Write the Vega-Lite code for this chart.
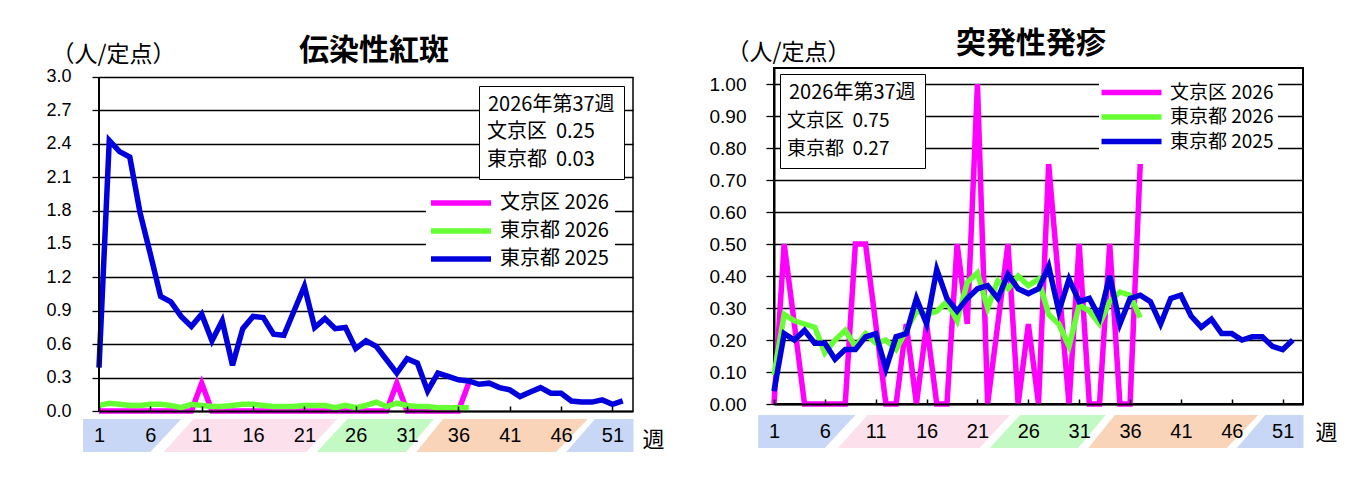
{
"$schema": "https://vega.github.io/schema/vega-lite/v6.json",
"background": "white",
"padding": {"left": 45, "top": 28, "right": 5, "bottom": 5},
"spacing": 43,
"config": {
  "view": {"stroke": "black", "strokeWidth": 2},
  "axis": {"labelFont": "Liberation Sans", "labelColor": "black", "titleFont": "Noto Sans CJK JP", "titleColor": "black", "titleFontWeight": "normal"},
  "legend": {"labelFont": "Noto Sans CJK JP", "titleFont": "Noto Sans CJK JP", "labelColor": "black", "titleColor": "black", "titleFontWeight": "normal", "labelLimit": 300},
  "title": {"font": "Noto Sans CJK JP", "color": "black"}
},
"datasets": {
  "season": [
    {"season": "冬1", "level": 0, "from": -0.55, "to": 6.0},
    {"season": "冬1", "level": 1, "from": -0.55, "to": 9.0},
    {"season": "春", "level": 0, "from": 7.3, "to": 21.2},
    {"season": "春", "level": 1, "from": 10.2, "to": 24.2},
    {"season": "夏", "level": 0, "from": 22.2, "to": 30.9},
    {"season": "夏", "level": 1, "from": 25.2, "to": 33.6},
    {"season": "秋", "level": 0, "from": 31.9, "to": 45.5},
    {"season": "秋", "level": 1, "from": 34.5, "to": 48.6},
    {"season": "冬2", "level": 0, "from": 46.5, "to": 53.05},
    {"season": "冬2", "level": 1, "from": 49.3, "to": 53.05}
  ],
  "info_e": [{"label": "文京区\u00a0\u00a00.25"}, {"label": "東京都\u00a0\u00a00.03"}],
  "info_x": [{"label": "文京区\u00a0\u00a00.75"}, {"label": "東京都\u00a0\u00a00.27"}],
  "erythema": [
    {"week":1,"series":"文京区 2026","value":0},{"week":2,"series":"文京区 2026","value":0},{"week":3,"series":"文京区 2026","value":0},{"week":4,"series":"文京区 2026","value":0},{"week":5,"series":"文京区 2026","value":0},{"week":6,"series":"文京区 2026","value":0},{"week":7,"series":"文京区 2026","value":0},{"week":8,"series":"文京区 2026","value":0},{"week":9,"series":"文京区 2026","value":0},{"week":10,"series":"文京区 2026","value":0},{"week":11,"series":"文京区 2026","value":0.25},{"week":12,"series":"文京区 2026","value":0},{"week":13,"series":"文京区 2026","value":0},{"week":14,"series":"文京区 2026","value":0},{"week":15,"series":"文京区 2026","value":0},{"week":16,"series":"文京区 2026","value":0},{"week":17,"series":"文京区 2026","value":0},{"week":18,"series":"文京区 2026","value":0},{"week":19,"series":"文京区 2026","value":0},{"week":20,"series":"文京区 2026","value":0},{"week":21,"series":"文京区 2026","value":0},{"week":22,"series":"文京区 2026","value":0},{"week":23,"series":"文京区 2026","value":0},{"week":24,"series":"文京区 2026","value":0},{"week":25,"series":"文京区 2026","value":0},{"week":26,"series":"文京区 2026","value":0},{"week":27,"series":"文京区 2026","value":0},{"week":28,"series":"文京区 2026","value":0},{"week":29,"series":"文京区 2026","value":0},{"week":30,"series":"文京区 2026","value":0.25},{"week":31,"series":"文京区 2026","value":0},{"week":32,"series":"文京区 2026","value":0},{"week":33,"series":"文京区 2026","value":0},{"week":34,"series":"文京区 2026","value":0},{"week":35,"series":"文京区 2026","value":0},{"week":36,"series":"文京区 2026","value":0},{"week":37,"series":"文京区 2026","value":0.25},
    {"week":1,"series":"東京都 2026","value":0.05},{"week":2,"series":"東京都 2026","value":0.07},{"week":3,"series":"東京都 2026","value":0.06},{"week":4,"series":"東京都 2026","value":0.05},{"week":5,"series":"東京都 2026","value":0.05},{"week":6,"series":"東京都 2026","value":0.06},{"week":7,"series":"東京都 2026","value":0.06},{"week":8,"series":"東京都 2026","value":0.05},{"week":9,"series":"東京都 2026","value":0.03},{"week":10,"series":"東京都 2026","value":0.06},{"week":11,"series":"東京都 2026","value":0.05},{"week":12,"series":"東京都 2026","value":0.04},{"week":13,"series":"東京都 2026","value":0.04},{"week":14,"series":"東京都 2026","value":0.05},{"week":15,"series":"東京都 2026","value":0.06},{"week":16,"series":"東京都 2026","value":0.06},{"week":17,"series":"東京都 2026","value":0.05},{"week":18,"series":"東京都 2026","value":0.04},{"week":19,"series":"東京都 2026","value":0.04},{"week":20,"series":"東京都 2026","value":0.04},{"week":21,"series":"東京都 2026","value":0.05},{"week":22,"series":"東京都 2026","value":0.05},{"week":23,"series":"東京都 2026","value":0.05},{"week":24,"series":"東京都 2026","value":0.03},{"week":25,"series":"東京都 2026","value":0.05},{"week":26,"series":"東京都 2026","value":0.03},{"week":27,"series":"東京都 2026","value":0.05},{"week":28,"series":"東京都 2026","value":0.08},{"week":29,"series":"東京都 2026","value":0.04},{"week":30,"series":"東京都 2026","value":0.07},{"week":31,"series":"東京都 2026","value":0.05},{"week":32,"series":"東京都 2026","value":0.04},{"week":33,"series":"東京都 2026","value":0.04},{"week":34,"series":"東京都 2026","value":0.03},{"week":35,"series":"東京都 2026","value":0.03},{"week":36,"series":"東京都 2026","value":0.03},{"week":37,"series":"東京都 2026","value":0.03},
    {"week":1,"series":"東京都 2025","value":0.39},{"week":2,"series":"東京都 2025","value":2.43},{"week":3,"series":"東京都 2025","value":2.33},{"week":4,"series":"東京都 2025","value":2.28},{"week":5,"series":"東京都 2025","value":1.78},{"week":6,"series":"東京都 2025","value":1.41},{"week":7,"series":"東京都 2025","value":1.03},{"week":8,"series":"東京都 2025","value":0.98},{"week":9,"series":"東京都 2025","value":0.85},{"week":10,"series":"東京都 2025","value":0.76},{"week":11,"series":"東京都 2025","value":0.87},{"week":12,"series":"東京都 2025","value":0.63},{"week":13,"series":"東京都 2025","value":0.81},{"week":14,"series":"東京都 2025","value":0.41},{"week":15,"series":"東京都 2025","value":0.74},{"week":16,"series":"東京都 2025","value":0.85},{"week":17,"series":"東京都 2025","value":0.84},{"week":18,"series":"東京都 2025","value":0.69},{"week":19,"series":"東京都 2025","value":0.68},{"week":20,"series":"東京都 2025","value":0.9},{"week":21,"series":"東京都 2025","value":1.12},{"week":22,"series":"東京都 2025","value":0.75},{"week":23,"series":"東京都 2025","value":0.83},{"week":24,"series":"東京都 2025","value":0.74},{"week":25,"series":"東京都 2025","value":0.75},{"week":26,"series":"東京都 2025","value":0.56},{"week":27,"series":"東京都 2025","value":0.63},{"week":28,"series":"東京都 2025","value":0.58},{"week":29,"series":"東京都 2025","value":0.46},{"week":30,"series":"東京都 2025","value":0.34},{"week":31,"series":"東京都 2025","value":0.47},{"week":32,"series":"東京都 2025","value":0.43},{"week":33,"series":"東京都 2025","value":0.18},{"week":34,"series":"東京都 2025","value":0.34},{"week":35,"series":"東京都 2025","value":0.31},{"week":36,"series":"東京都 2025","value":0.28},{"week":37,"series":"東京都 2025","value":0.27},{"week":38,"series":"東京都 2025","value":0.24},{"week":39,"series":"東京都 2025","value":0.25},{"week":40,"series":"東京都 2025","value":0.21},{"week":41,"series":"東京都 2025","value":0.19},{"week":42,"series":"東京都 2025","value":0.13},{"week":43,"series":"東京都 2025","value":0.17},{"week":44,"series":"東京都 2025","value":0.21},{"week":45,"series":"東京都 2025","value":0.16},{"week":46,"series":"東京都 2025","value":0.16},{"week":47,"series":"東京都 2025","value":0.09},{"week":48,"series":"東京都 2025","value":0.08},{"week":49,"series":"東京都 2025","value":0.08},{"week":50,"series":"東京都 2025","value":0.1},{"week":51,"series":"東京都 2025","value":0.06},{"week":52,"series":"東京都 2025","value":0.09}
  ],
  "exanthem": [
    {"week":1,"series":"文京区 2026","value":0},{"week":2,"series":"文京区 2026","value":0.5},{"week":3,"series":"文京区 2026","value":0.25},{"week":4,"series":"文京区 2026","value":0},{"week":5,"series":"文京区 2026","value":0},{"week":6,"series":"文京区 2026","value":0},{"week":7,"series":"文京区 2026","value":0},{"week":8,"series":"文京区 2026","value":0},{"week":9,"series":"文京区 2026","value":0.5},{"week":10,"series":"文京区 2026","value":0.5},{"week":11,"series":"文京区 2026","value":0.25},{"week":12,"series":"文京区 2026","value":0},{"week":13,"series":"文京区 2026","value":0},{"week":14,"series":"文京区 2026","value":0.25},{"week":15,"series":"文京区 2026","value":0},{"week":16,"series":"文京区 2026","value":0.25},{"week":17,"series":"文京区 2026","value":0},{"week":18,"series":"文京区 2026","value":0},{"week":19,"series":"文京区 2026","value":0.5},{"week":20,"series":"文京区 2026","value":0.25},{"week":21,"series":"文京区 2026","value":1.0},{"week":22,"series":"文京区 2026","value":0},{"week":23,"series":"文京区 2026","value":0.25},{"week":24,"series":"文京区 2026","value":0.5},{"week":25,"series":"文京区 2026","value":0},{"week":26,"series":"文京区 2026","value":0.25},{"week":27,"series":"文京区 2026","value":0},{"week":28,"series":"文京区 2026","value":0.75},{"week":29,"series":"文京区 2026","value":0.375},{"week":30,"series":"文京区 2026","value":0},{"week":31,"series":"文京区 2026","value":0.5},{"week":32,"series":"文京区 2026","value":0},{"week":33,"series":"文京区 2026","value":0},{"week":34,"series":"文京区 2026","value":0.5},{"week":35,"series":"文京区 2026","value":0},{"week":36,"series":"文京区 2026","value":0},{"week":37,"series":"文京区 2026","value":0.75},
    {"week":1,"series":"東京都 2026","value":0.09},{"week":2,"series":"東京都 2026","value":0.28},{"week":3,"series":"東京都 2026","value":0.26},{"week":4,"series":"東京都 2026","value":0.25},{"week":5,"series":"東京都 2026","value":0.24},{"week":6,"series":"東京都 2026","value":0.16},{"week":7,"series":"東京都 2026","value":0.2},{"week":8,"series":"東京都 2026","value":0.23},{"week":9,"series":"東京都 2026","value":0.18},{"week":10,"series":"東京都 2026","value":0.22},{"week":11,"series":"東京都 2026","value":0.19},{"week":12,"series":"東京都 2026","value":0.2},{"week":13,"series":"東京都 2026","value":0.17},{"week":14,"series":"東京都 2026","value":0.23},{"week":15,"series":"東京都 2026","value":0.29},{"week":16,"series":"東京都 2026","value":0.28},{"week":17,"series":"東京都 2026","value":0.29},{"week":18,"series":"東京都 2026","value":0.32},{"week":19,"series":"東京都 2026","value":0.26},{"week":20,"series":"東京都 2026","value":0.38},{"week":21,"series":"東京都 2026","value":0.41},{"week":22,"series":"東京都 2026","value":0.3},{"week":23,"series":"東京都 2026","value":0.385},{"week":24,"series":"東京都 2026","value":0.36},{"week":25,"series":"東京都 2026","value":0.4},{"week":26,"series":"東京都 2026","value":0.37},{"week":27,"series":"東京都 2026","value":0.39},{"week":28,"series":"東京都 2026","value":0.28},{"week":29,"series":"東京都 2026","value":0.25},{"week":30,"series":"東京都 2026","value":0.18},{"week":31,"series":"東京都 2026","value":0.31},{"week":32,"series":"東京都 2026","value":0.29},{"week":33,"series":"東京都 2026","value":0.25},{"week":34,"series":"東京都 2026","value":0.32},{"week":35,"series":"東京都 2026","value":0.35},{"week":36,"series":"東京都 2026","value":0.34},{"week":37,"series":"東京都 2026","value":0.27},
    {"week":1,"series":"東京都 2025","value":0.04},{"week":2,"series":"東京都 2025","value":0.22},{"week":3,"series":"東京都 2025","value":0.2},{"week":4,"series":"東京都 2025","value":0.23},{"week":5,"series":"東京都 2025","value":0.19},{"week":6,"series":"東京都 2025","value":0.19},{"week":7,"series":"東京都 2025","value":0.14},{"week":8,"series":"東京都 2025","value":0.17},{"week":9,"series":"東京都 2025","value":0.17},{"week":10,"series":"東京都 2025","value":0.21},{"week":11,"series":"東京都 2025","value":0.22},{"week":12,"series":"東京都 2025","value":0.11},{"week":13,"series":"東京都 2025","value":0.21},{"week":14,"series":"東京都 2025","value":0.22},{"week":15,"series":"東京都 2025","value":0.33},{"week":16,"series":"東京都 2025","value":0.25},{"week":17,"series":"東京都 2025","value":0.42},{"week":18,"series":"東京都 2025","value":0.33},{"week":19,"series":"東京都 2025","value":0.29},{"week":20,"series":"東京都 2025","value":0.33},{"week":21,"series":"東京都 2025","value":0.36},{"week":22,"series":"東京都 2025","value":0.37},{"week":23,"series":"東京都 2025","value":0.33},{"week":24,"series":"東京都 2025","value":0.405},{"week":25,"series":"東京都 2025","value":0.36},{"week":26,"series":"東京都 2025","value":0.345},{"week":27,"series":"東京都 2025","value":0.36},{"week":28,"series":"東京都 2025","value":0.43},{"week":29,"series":"東京都 2025","value":0.29},{"week":30,"series":"東京都 2025","value":0.39},{"week":31,"series":"東京都 2025","value":0.32},{"week":32,"series":"東京都 2025","value":0.33},{"week":33,"series":"東京都 2025","value":0.27},{"week":34,"series":"東京都 2025","value":0.4},{"week":35,"series":"東京都 2025","value":0.25},{"week":36,"series":"東京都 2025","value":0.33},{"week":37,"series":"東京都 2025","value":0.34},{"week":38,"series":"東京都 2025","value":0.32},{"week":39,"series":"東京都 2025","value":0.25},{"week":40,"series":"東京都 2025","value":0.33},{"week":41,"series":"東京都 2025","value":0.34},{"week":42,"series":"東京都 2025","value":0.275},{"week":43,"series":"東京都 2025","value":0.24},{"week":44,"series":"東京都 2025","value":0.265},{"week":45,"series":"東京都 2025","value":0.22},{"week":46,"series":"東京都 2025","value":0.22},{"week":47,"series":"東京都 2025","value":0.2},{"week":48,"series":"東京都 2025","value":0.21},{"week":49,"series":"東京都 2025","value":0.21},{"week":50,"series":"東京都 2025","value":0.18},{"week":51,"series":"東京都 2025","value":0.17},{"week":52,"series":"東京都 2025","value":0.2}
  ]
},
"resolve": {
  "scale": {"color": "independent", "strokeWidth": "independent", "shape": "independent", "fill": "independent"},
  "legend": {"color": "independent", "strokeWidth": "independent", "shape": "independent"}
},
"hconcat": [
  {
    "width": 534, "height": 343,
    "view": {"stroke": null},
    "title": {"text": "伝染性紅斑", "fontSize": 30, "fontWeight": "bold", "anchor": "middle", "dx": 8, "offset": -23},
    "resolve": {"scale": {"y": "independent"}},
    "layer": [
      {
        "layer": [
          {
            "data": {"name": "erythema"},
            "mark": {"type": "line"},
            "encoding": {
              "x": {"field": "week", "type": "quantitative", "scale": {"domain": [1, 53], "nice": false, "zero": false},
                "axis": {"values": [1,6,11,16,21,26,31,36,41,46,51], "grid": false, "domain": true, "domainColor": "black", "domainWidth": 2, "zindex": 1,
                  "ticks": true, "tickSize": -5, "tickColor": "black", "tickWidth": 1.5,
                  "labelPadding": 29.5, "labelBaseline": "middle", "labelFontSize": 20, "labelFlush": false, "labelOverlap": false,
                  "title": "週", "titleFontSize": 22, "titleX": 554, "titleY": 28, "titleAlign": "center", "titleBaseline": "middle",
                  "encode": {"labels": {"update": {"fill": {"signal": "datum.value <= 6 || datum.value >= 51 ? '#1d2857' : datum.value <= 21 ? '#3e1d26' : datum.value <= 31 ? '#0b3a10' : '#4d2308'"}}}}}},
              "y": {"field": "value", "type": "quantitative", "scale": {"domain": [0, 3.0808], "nice": false, "zero": true},
                "axis": {"orient": "left", "values": [0,0.3,0.6,0.9,1.2,1.5,1.8,2.1,2.4,2.7,3.0], "format": ".1f", "labelOverlap": false,
                  "grid": true, "gridColor": "black", "gridWidth": 1.3, "gridOpacity": 1, "domain": false,
                  "ticks": true, "tickSize": 7, "tickColor": "black", "tickWidth": 1.3,
                  "labelPadding": 21, "labelFontSize": 18,
                  "title": "（人/定点）", "titleAngle": 0, "titleAlign": "left", "titleBaseline": "middle", "titleX": -48, "titleY": -14, "titleFontSize": 23}},
              "color": {"field": "series", "type": "nominal",
                "scale": {"domain": ["文京区 2026", "東京都 2026", "東京都 2025"], "range": ["#ff00ff", "#66ff33", "#0000dd"]},
                "legend": {"orient": "none", "legendX": 327, "legendY": 119, "title": null, "symbolType": "M-11,0H49", "symbolSize": 4,
                  "labelFontSize": 20, "labelOffset": 48, "fillColor": "white", "padding": 6, "rowPadding": 6}},
              "strokeWidth": {"field": "series", "type": "nominal",
                "scale": {"domain": ["文京区 2026", "東京都 2026", "東京都 2025"], "range": [5.5, 5.5, 2.3]},
                "legend": {"orient": "none", "legendX": 327, "legendY": 119, "title": null, "symbolType": "M-11,0H49", "symbolSize": 4,
                  "labelFontSize": 20, "labelOffset": 48, "fillColor": "white", "padding": 6, "rowPadding": 6}}
            }
          },
          {
            "data": {"values": [{}]},
            "mark": {"type": "rule", "color": "black", "strokeWidth": 2},
            "encoding": {
              "x": {"datum": 1, "type": "quantitative", "scale": {"domain": [1, 53], "nice": false, "zero": false},
                "axis": {"values": [1,6,11,16,21,26,31,36,41,46,51], "grid": false, "domain": true, "domainColor": "black", "domainWidth": 2, "zindex": 1,
                  "ticks": true, "tickSize": -5, "tickColor": "black", "tickWidth": 1.5,
                  "labelPadding": 29.5, "labelBaseline": "middle", "labelFontSize": 20, "labelFlush": false, "labelOverlap": false,
                  "title": "週", "titleFontSize": 22, "titleX": 554, "titleY": 28, "titleAlign": "center", "titleBaseline": "middle",
                  "encode": {"labels": {"update": {"fill": {"signal": "datum.value <= 6 || datum.value >= 51 ? '#1d2857' : datum.value <= 21 ? '#3e1d26' : datum.value <= 31 ? '#0b3a10' : '#4d2308'"}}}}}},
              "y": {"datum": 0, "type": "quantitative", "scale": {"domain": [0, 3.0808], "nice": false, "zero": true},
                "axis": {"orient": "left", "values": [0,0.3,0.6,0.9,1.2,1.5,1.8,2.1,2.4,2.7,3.0], "format": ".1f", "labelOverlap": false,
                  "grid": true, "gridColor": "black", "gridWidth": 1.3, "gridOpacity": 1, "domain": false,
                  "ticks": true, "tickSize": 7, "tickColor": "black", "tickWidth": 1.3,
                  "labelPadding": 21, "labelFontSize": 18,
                  "title": "（人/定点）", "titleAngle": 0, "titleAlign": "left", "titleBaseline": "middle", "titleX": -48, "titleY": -14, "titleFontSize": 23}},
              "y2": {"datum": 3}
            }
          },
          {
            "data": {"values": [{}]},
            "mark": {"type": "rule", "color": "black", "strokeWidth": 1.5},
            "encoding": {
              "x": {"datum": 53, "type": "quantitative", "scale": {"domain": [1, 53], "nice": false, "zero": false},
                "axis": {"values": [1,6,11,16,21,26,31,36,41,46,51], "grid": false, "domain": true, "domainColor": "black", "domainWidth": 2, "zindex": 1,
                  "ticks": true, "tickSize": -5, "tickColor": "black", "tickWidth": 1.5,
                  "labelPadding": 29.5, "labelBaseline": "middle", "labelFontSize": 20, "labelFlush": false, "labelOverlap": false,
                  "title": "週", "titleFontSize": 22, "titleX": 554, "titleY": 28, "titleAlign": "center", "titleBaseline": "middle",
                  "encode": {"labels": {"update": {"fill": {"signal": "datum.value <= 6 || datum.value >= 51 ? '#1d2857' : datum.value <= 21 ? '#3e1d26' : datum.value <= 31 ? '#0b3a10' : '#4d2308'"}}}}}},
              "y": {"datum": 0, "type": "quantitative", "scale": {"domain": [0, 3.0808], "nice": false, "zero": true},
                "axis": {"orient": "left", "values": [0,0.3,0.6,0.9,1.2,1.5,1.8,2.1,2.4,2.7,3.0], "format": ".1f", "labelOverlap": false,
                  "grid": true, "gridColor": "black", "gridWidth": 1.3, "gridOpacity": 1, "domain": false,
                  "ticks": true, "tickSize": 7, "tickColor": "black", "tickWidth": 1.3,
                  "labelPadding": 21, "labelFontSize": 18,
                  "title": "（人/定点）", "titleAngle": 0, "titleAlign": "left", "titleBaseline": "middle", "titleX": -48, "titleY": -14, "titleFontSize": 23}},
              "y2": {"datum": 3}
            }
          },
          {
            "data": {"name": "info_e"},
            "mark": {"type": "point", "opacity": 0},
            "encoding": {
              "shape": {"field": "label", "type": "nominal", "scale": {"domain": ["文京区\u00a0\u00a00.25", "東京都\u00a0\u00a00.03"], "range": ["circle", "square"]},
                "legend": {"orient": "none", "legendX": 380, "legendY": 18, "title": "2026年第37週", "titleFontSize": 20, "titlePadding": 7,
                  "labelFontSize": 20, "labelOffset": -21, "symbolSize": 0, "symbolOpacity": 0, "rowPadding": 8,
                  "strokeColor": "black", "fillColor": "white", "padding": 9,
                  "encode": {"legend": {"update": {"strokeWidth": {"value": 3}}}}}}
            }
          }
        ]
      },
      {
        "data": {"name": "season"},
        "mark": {"type": "area", "orient": "horizontal", "opacity": 1},
        "encoding": {
          "y": {"field": "level", "type": "quantitative", "scale": {"domain": [1.2424, 11.636], "nice": false, "zero": false}, "axis": null},
          "x": {"field": "from", "type": "quantitative", "stack": null, "scale": {"domain": [1, 53], "nice": false, "zero": false}, "title": "週"},
          "x2": {"field": "to"},
          "fill": {"field": "season", "type": "nominal", "scale": {"domain": ["冬1", "春", "夏", "秋", "冬2"], "range": ["#c8d7f5", "#fce1ec", "#c3fac3", "#fad4b9", "#c8d7f5"]}, "legend": null}
        }
      }
    ]
  },
  {
    "width": 529, "height": 336,
    "title": {"text": "突発性発疹", "fontSize": 30, "fontWeight": "bold", "anchor": "middle", "dx": -7.5, "offset": -18},
    "resolve": {"scale": {"y": "independent"}},
    "layer": [
      {
        "layer": [
          {
            "data": {"name": "exanthem"},
            "mark": {"type": "line"},
            "encoding": {
              "x": {"field": "week", "type": "quantitative", "scale": {"domain": [1, 53], "nice": false, "zero": false},
                "axis": {"values": [1,6,11,16,21,26,31,36,41,46,51], "grid": false, "domain": true, "domainColor": "black", "domainWidth": 2, "zindex": 1,
                  "ticks": true, "tickSize": -5, "tickColor": "black", "tickWidth": 1.5,
                  "labelPadding": 32.5, "labelBaseline": "middle", "labelFontSize": 20, "labelFlush": false, "labelOverlap": false,
                  "title": "週", "titleFontSize": 22, "titleX": 552, "titleY": 28, "titleAlign": "center", "titleBaseline": "middle",
                  "encode": {"labels": {"update": {"fill": {"signal": "datum.value <= 6 || datum.value >= 51 ? '#1d2857' : datum.value <= 21 ? '#3e1d26' : datum.value <= 31 ? '#0b3a10' : '#4d2308'"}}}}}},
              "y": {"field": "value", "type": "quantitative", "scale": {"domain": [0, 1.05], "nice": false, "zero": true},
                "axis": {"orient": "left", "values": [0,0.1,0.2,0.3,0.4,0.5,0.6,0.7,0.8,0.9,1.0], "format": ".2f", "labelOverlap": false,
                  "grid": true, "gridColor": "black", "gridWidth": 1.3, "gridOpacity": 1, "domain": true, "domainColor": "black", "domainWidth": 2,
                  "ticks": true, "tickSize": 8, "tickColor": "black", "tickWidth": 1.3,
                  "labelPadding": 20, "labelFontSize": 19,
                  "title": "（人/定点）", "titleAngle": 0, "titleAlign": "left", "titleBaseline": "middle", "titleX": -48, "titleY": -16, "titleFontSize": 23}},
              "color": {"field": "series", "type": "nominal",
                "scale": {"domain": ["文京区 2026", "東京都 2026", "東京都 2025"], "range": ["#ff00ff", "#66ff33", "#0000dd"]},
                "legend": {"orient": "none", "legendX": 325, "legendY": 11, "title": null, "symbolType": "M-11,0H49", "symbolSize": 4,
                  "labelFontSize": 19, "labelOffset": 48, "fillColor": "white", "padding": 4, "rowPadding": 1.5}},
              "strokeWidth": {"field": "series", "type": "nominal",
                "scale": {"domain": ["文京区 2026", "東京都 2026", "東京都 2025"], "range": [5.5, 5.5, 2.3]},
                "legend": {"orient": "none", "legendX": 325, "legendY": 11, "title": null, "symbolType": "M-11,0H49", "symbolSize": 4,
                  "labelFontSize": 19, "labelOffset": 48, "fillColor": "white", "padding": 4, "rowPadding": 1.5}}
            }
          },
          {
            "data": {"name": "info_x"},
            "mark": {"type": "point", "opacity": 0},
            "encoding": {
              "shape": {"field": "label", "type": "nominal", "scale": {"domain": ["文京区\u00a0\u00a00.75", "東京都\u00a0\u00a00.27"], "range": ["circle", "square"]},
                "legend": {"orient": "none", "legendX": 6, "legendY": 6, "title": "2026年第37週", "titleFontSize": 20, "titlePadding": 8,
                  "labelFontSize": 19, "labelOffset": -21, "symbolSize": 0, "symbolOpacity": 0, "rowPadding": 8,
                  "strokeColor": "black", "fillColor": "white", "padding": 9,
                  "encode": {"legend": {"update": {"strokeWidth": {"value": 3}}}}}}
            }
          }
        ]
      },
      {
        "data": {"name": "season"},
        "mark": {"type": "area", "orient": "horizontal", "opacity": 1},
        "encoding": {
          "y": {"field": "level", "type": "quantitative", "scale": {"domain": [1.3333, 11.515], "nice": false, "zero": false}, "axis": null},
          "x": {"field": "from", "type": "quantitative", "stack": null, "scale": {"domain": [1, 53], "nice": false, "zero": false}, "title": "週"},
          "x2": {"field": "to"},
          "fill": {"field": "season", "type": "nominal", "scale": {"domain": ["冬1", "春", "夏", "秋", "冬2"], "range": ["#c8d7f5", "#fce1ec", "#c3fac3", "#fad4b9", "#c8d7f5"]}, "legend": null}
        }
      }
    ]
  }
]
}
